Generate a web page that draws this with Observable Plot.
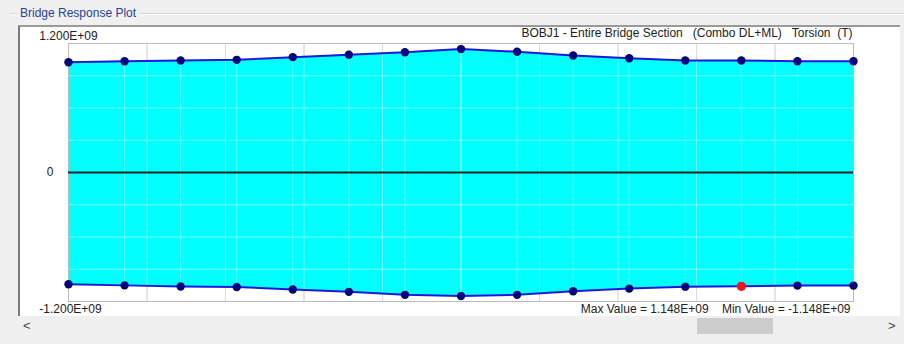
<!DOCTYPE html>
<html>
<head>
<meta charset="utf-8">
<script src="https://cdn.jsdelivr.net/npm/d3@7"></script>
<script src="https://cdn.jsdelivr.net/npm/@observablehq/plot@0.6"></script>
<style>
  html, body { margin: 0; padding: 0; background: #f0f0f0; }
  #win { position: relative; width: 904px; height: 344px; background: #f0f0f0; overflow: hidden;
         font-family: "Liberation Sans", Arial, sans-serif; }
  #grpline { position: absolute; left: 10px; right: 0; top: 13px; height: 0;
             border-top: 1px solid #d6d6d6; border-bottom: 1px solid #fff; }
  #grptitle { position: absolute; left: 17px; top: 6px; padding: 0 3px; background: #f0f0f0;
              color: #23429a; font-size: 12px; }
  #panel { position: absolute; left: 18px; top: 25px; width: 880px; height: 289px; background: #fff;
           border-left: 2px solid #7a7a7a; border-top: 2px solid #9a9a9a; }
  #thumb { position: absolute; left: 697px; top: 318px; width: 76px; height: 16px; background: #cdcdcd; }
  .arr { position: absolute; top: 318px; font-size: 13px; color: #444; }
  #chart { position: absolute; left: 0; top: 0; }
</style>
</head>
<body>
<div id="win">
  <div id="grpline"></div>
  <div id="grptitle">Bridge Response Plot</div>
  <div id="panel"></div>
  <div id="thumb"></div>
  <div class="arr" style="left:23px">&lt;</div>
  <div class="arr" style="left:888px">&gt;</div>
  <div id="chart"></div>
</div>
<script>
// ---- data ----
const stations = [0, 1, 2, 3, 4, 5, 6, 7, 8, 9, 10, 11, 12, 13, 14];
const maxEnvelope = [1.026e9, 1.035e9, 1.042e9, 1.048e9, 1.073e9, 1.095e9, 1.119e9, 1.148e9,
                     1.123e9, 1.088e9, 1.063e9, 1.042e9, 1.042e9, 1.035e9, 1.035e9];
const minEnvelope = [-1.040e9, -1.050e9, -1.060e9, -1.065e9, -1.088e9, -1.110e9, -1.138e9, -1.148e9,
                     -1.138e9, -1.105e9, -1.080e9, -1.062e9, -1.058e9, -1.052e9, -1.052e9];
const highlightStation = 12;
const xGridTicks = [0, 1.4, 2.8, 4.2, 5.6, 7.0, 8.4, 9.8, 11.2, 12.6, 14];
const yGridTicks = [-1.2e9, -9e8, -6e8, -3e8, 0, 3e8, 6e8, 9e8, 1.2e9];
const yLabelTop = 1.2e9, yLabelZero = 0, yLabelBottom = -1.2e9;
const headerText = "BOBJ1 - Entire Bridge Section   (Combo DL+ML)   Torsion  (T)";
const maxValue = 1.148e9, minValue = -1.148e9;

const fmt = v => {
  if (v === 0) return "0";
  const [m, e] = v.toExponential(3).split("e");
  const ev = parseInt(e, 10);
  return m + "E" + (ev < 0 ? "-" : "+") + String(Math.abs(ev)).padStart(2, "0");
};
const nb = s => s.replace(/ /g, "\u00a0");
const footerText = `Max Value = ${fmt(maxValue)}    Min Value = ${fmt(minValue)}`;

const rows = stations.map((s, i) => ({x: s, top: maxEnvelope[i], bottom: minEnvelope[i]}));
const red = rows.filter(d => d.x === highlightStation);

const plot = Plot.plot({
  width: 904, height: 344,
  marginLeft: 68, marginRight: 51, marginTop: 43, marginBottom: 43,
  style: {background: "transparent", fontFamily: "'Liberation Sans', Arial, sans-serif", fontSize: "12px", color: "#222"},
  x: {domain: [0, 14], axis: null},
  y: {domain: [-1.2e9, 1.2e9], axis: null},
  marks: [
    Plot.gridX(xGridTicks, {stroke: "#a8a8a8", strokeOpacity: 0.75}),
    Plot.areaY(rows, {x: "x", y1: "bottom", y2: "top", fill: "#00ffff", curve: "linear"}),
    Plot.gridX(xGridTicks, {stroke: "#ffffff", strokeOpacity: 0.45}),
    Plot.gridY(yGridTicks, {stroke: "#ffffff", strokeOpacity: 0.45}),
    Plot.ruleX(rows, {x: "x", y1: "bottom", y2: "top", stroke: "#ffffff", strokeOpacity: 0.35}),
    Plot.frame({stroke: "#bcbcbc"}),
    Plot.ruleY([0], {stroke: "#0b2b2b", strokeWidth: 2.2}),
    Plot.lineY(rows, {x: "x", y: "top", stroke: "#1818e0", strokeWidth: 2}),
    Plot.lineY(rows, {x: "x", y: "bottom", stroke: "#1818e0", strokeWidth: 2}),
    Plot.dot(rows, {x: "x", y: "top", r: 4.2, fill: "#00007a", stroke: "none"}),
    Plot.dot(rows, {x: "x", y: "bottom", r: 4.2, fill: "#00007a", stroke: "none"}),
    Plot.dot(red, {x: "x", y: "bottom", r: 4.6, fill: "#ff1010", stroke: "none"}),
    Plot.text([yLabelTop], {y: d => d, frameAnchor: "left", textAnchor: "middle", lineAnchor: "middle", dy: -7, dx: 0, text: fmt, fill: "#222"}),
    Plot.text([yLabelZero], {y: d => d, frameAnchor: "left", textAnchor: "end", lineAnchor: "middle", dx: -15, text: fmt, fill: "#222"}),
    Plot.text([yLabelBottom], {y: d => d, frameAnchor: "left", textAnchor: "middle", lineAnchor: "middle", dy: 8, dx: 2, text: fmt, fill: "#222"}),
    Plot.text([headerText], {frameAnchor: "top-right", textAnchor: "end", lineAnchor: "middle", dy: -10, dx: -1, text: d => nb(d), fill: "#222"}),
    Plot.text([footerText], {frameAnchor: "bottom-right", textAnchor: "end", lineAnchor: "middle", dy: 8, dx: -3, text: d => nb(d), fill: "#222"})
  ]
});
document.getElementById("chart").appendChild(plot);
</script>
</body>
</html>
